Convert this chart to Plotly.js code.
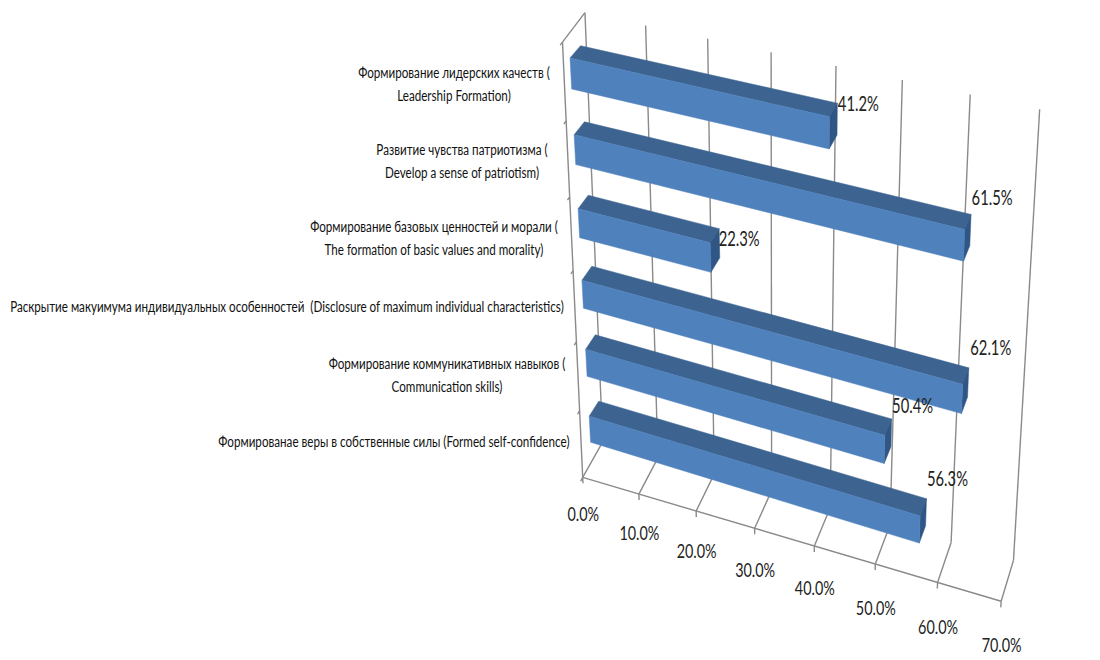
<!DOCTYPE html>
<html><head><meta charset="utf-8">
<script src="https://cdn.plot.ly/plotly-3.0.1.min.js"></script>
<style>html,body{margin:0;padding:0;background:#fff}#c{width:1100px;height:660px}</style></head>
<body><div id="c"></div>
<script>
// ---- data, top category first
const categoryLines = [
  ["Формирование лидерских качеств (", "Leadership Formation)"],
  ["Развитие чувства патриотизма (", "Develop a sense of patriotism)"],
  ["Формирование базовых ценностей и морали (", "The formation of basic values and morality)"],
  ["Раскрытие макуимума индивидуальных особенностей  (Disclosure of maximum individual characteristics)"],
  ["Формирование коммуникативных навыков (", "Communication skills)"],
  ["Формированае веры в собственные силы (Formed self-confidence)"]
];
const values = [41.2, 61.5, 22.3, 62.1, 50.4, 56.3];
const tickValues = [0, 10, 20, 30, 40, 50, 60, 70];
const AXIS_MAX = 70;

// ---- layout of text (pixel anchors)
const catAnchors = [[454,74],[462,151],[434,228],[287,308],[447,365],[394,443]];
const valueLabelOffsets = [[21,3],[21,-15],[20,12],[22,-18],[21,-11],[21,-18]];
const tickLabelDrop = [39,41,42,44,44,46,47,46];
const LINE_GAP = 23;

// ---- perspective cameras, calibrated on the reference: [value, depth, height, px, py]
const boxCalib = [
 [0,0,0,584,474],[10,0,0,640,492],[20,0,0,697,510],[30,0,0,755,528],[40,0,0,814,546],[50,0,0,875,565],[60,0,0,937,585],[70,0,0,1001,604],
 [0,1,1,587,12],[10,1,1,647,25],[20,1,1,708,38],[30,1,1,771,52],[40,1,1,835,66],[50,1,1,902,80],[60,1,1,970,95],[70,1,1,1040,110],
 [0,1,0,602,445],[10,1,0,655,462],[60,1,0,952,538],[70,1,0,1014,558],[0,0,1,560,43]
];
// bar camera: depth 0 = bar front, 1 = bar back; height in category slots, counted from the floor
const BAR0=0.3, BAR1=0.7, nCat=values.length;
const zLo=i=>(nCat-1-i+BAR0)/nCat, zHi=i=>(nCat-1-i+BAR1)/nCat;
const barCornersLeft=[[570,58,571,89,580,46],[574,135,576,165,585,122],[578,209,579,238,588,195],[582,280,583,308,592,266],[586,349,587,376,595,334],[589,417,591,443,599,401]];
const barCornersRight=[[829,117,829,149,837,102,837,136],[966,229,963,261,971,214,970,248],[711,242,712,272,720,228,720,258],[963,385,962,413,968,367,968,397],[885,436,883,463,891,418,891,447],[920,515,919,543,926,498,926,528]];
const barCalib=[];
values.forEach((v,i)=>{const L=barCornersLeft[i],R=barCornersRight[i];
  barCalib.push([0,0,zHi(i),L[0],L[1]],[0,0,zLo(i),L[2],L[3]],[0,1,zHi(i),L[4],L[5]]);
  barCalib.push([v,0,zHi(i),R[0],R[1]],[v,0,zLo(i),R[2],R[3]],[v,1,zHi(i),R[4],R[5]],[v,1,zLo(i),R[6],R[7]]);
});
function solve(A,b){const n=b.length;for(let i=0;i<n;i++){let p=i;for(let r=i+1;r<n;r++)if(Math.abs(A[r][i])>Math.abs(A[p][i]))p=r;
  [A[i],A[p]]=[A[p],A[i]];[b[i],b[p]]=[b[p],b[i]];
  for(let r=i+1;r<n;r++){const f=A[r][i]/A[i][i];for(let c=i;c<n;c++)A[r][c]-=f*A[i][c];b[r]-=f*b[i];}}
  const x=new Array(n);for(let i=n-1;i>=0;i--){let s=b[i];for(let c=i+1;c<n;c++)s-=A[i][c]*x[c];x[i]=s/A[i][i];}return x;}
function fitCamera(calib){const rows=[],rhs=[];
  calib.forEach(([v,d,z,px,py])=>{const X=[v/AXIS_MAX,d,z,1];const u=px/1000,w=py/1000;
    rows.push([...X,0,0,0,0,...X.slice(0,3).map(t=>-u*t)]);rhs.push(u);
    rows.push([0,0,0,0,...X,...X.slice(0,3).map(t=>-w*t)]);rhs.push(w);});
  const N=Array.from({length:11},()=>new Array(11).fill(0)),B=new Array(11).fill(0);
  rows.forEach((r,k)=>{for(let i=0;i<11;i++){B[i]+=r[i]*rhs[k];for(let j=0;j<11;j++)N[i][j]+=r[i]*r[j];}});
  const m=solve(N,B);
  return (v,d,z)=>{const x=v/AXIS_MAX,h=m[8]*x+m[9]*d+m[10]*z+1;
    return [1000*(m[0]*x+m[1]*d+m[2]*z+m[3])/h,1000*(m[4]*x+m[5]*d+m[6]*z+m[7])/h];};}
const project=fitCamera(boxCalib), projectBar=fitCamera(barCalib);

function poly(list){const xs=[],ys=[];list.forEach(q=>{q.concat([q[0]]).forEach(p=>{xs.push(p[0]);ys.push(p[1]);});xs.push(null);ys.push(null);});return {xs,ys};}
function segs(list){const xs=[],ys=[];list.forEach(s=>{s.forEach(p=>{xs.push(p[0]);ys.push(p[1]);});xs.push(null);ys.push(null);});return {xs,ys};}

const front=[],top_=[],end=[];
values.forEach((val,i)=>{const z0=zLo(i),z1=zHi(i),P=projectBar;
  front.push([P(0,0,z0),P(val,0,z0),P(val,0,z1),P(0,0,z1)]);
  top_.push([P(0,0,z1),P(val,0,z1),P(val,1,z1),P(0,1,z1)]);
  end.push([P(val,0,z0),P(val,1,z0),P(val,1,z1),P(val,0,z1)]);
});
const gridSegs=[],frameSegs=[];
tickValues.forEach(t=>{
  gridSegs.push([project(t,1,0),project(t,1,1)]);
  gridSegs.push([project(t,0,0),project(t,1,0)]);
  frameSegs.push([project(t,0,0),project(t,0,-0.015)]);
});
frameSegs.push([project(0,0,0),project(AXIS_MAX,0,0)]);
frameSegs.push([project(0,0,0),project(0,0,1)]);
frameSegs.push([project(0,0,1),project(0,1,1)]);
for(let k=0;k<=nCat;k++)frameSegs.push([project(0,0,k/nCat),project(0,-0.1,k/nCat)]);

const FONT="Lato,'Noto Sans',sans-serif", INK="#222222";
const lineTrace=(s,w,c)=>({type:'scatter',mode:'lines',x:s.xs,y:s.ys,line:{color:c,width:w},hoverinfo:'skip',showlegend:false});
const fillTrace=(q,c)=>{const s=poly(q);return {type:'scatter',mode:'lines',x:s.xs,y:s.ys,fill:'toself',fillcolor:c,line:{color:c,width:0.5},hoverinfo:'skip',showlegend:false};};
const textTrace=(x,y,t,size,color)=>({type:'scatter',mode:'text',x,y,text:t,textposition:'middle center',textfont:{family:FONT,size,color:color||INK},hoverinfo:'skip',showlegend:false});

const catX=[],catY=[],catT=[];
categoryLines.forEach((ls,i)=>ls.forEach((l,j)=>{catX.push(catAnchors[i][0]);catY.push(catAnchors[i][1]+j*LINE_GAP);catT.push(l);}));
const tickPos=tickValues.map(t=>project(t,0,0));
const valPos=values.map((v,i)=>{const p=projectBar(v,1,zHi(i));return [p[0]+valueLabelOffsets[i][0],p[1]+valueLabelOffsets[i][1]];});

const traces=[
  lineTrace(segs(gridSegs),1.4,'#8a8a8a'),
  lineTrace(segs(frameSegs),1.4,'#8a8a8a'),
  fillTrace(top_,'#3D6491'),
  fillTrace(end,'#2F5684'),
  fillTrace(front,'#4F81BD'),
  textTrace(catX,catY,catT,16,'#111111'),
  textTrace(tickPos.map(p=>p[0]+0.5),tickPos.map((p,i)=>p[1]+tickLabelDrop[i]),tickValues.map(t=>t.toFixed(1)+'%'),20),
  textTrace(valPos.map(p=>p[0]),valPos.map(p=>p[1]),values.map(v=>v.toFixed(1)+'%'),21)
];
const hidden={range:[0,1100],visible:false,fixedrange:true};
// The reference's text is horizontally squeezed: condense each text group to the measured width of a sample string
const condense=[[5,"Раскрытие",554],[6,"10.0%",40],[7,"41.2%",41]];
Plotly.newPlot('c',traces,{width:1100,height:660,margin:{l:0,r:0,t:0,b:0},paper_bgcolor:'#fff',plot_bgcolor:'#fff',showlegend:false,
  xaxis:hidden,yaxis:{range:[660,0],visible:false,fixedrange:true}},{displayModeBar:false,staticPlot:true}).then(()=>{
  const layers=document.querySelectorAll('#c .scatterlayer .trace');
  condense.forEach(([idx,sample,width])=>{
    const texts=[...layers[idx].querySelectorAll('.textpoint text')];
    const ref=texts.find(t=>t.textContent.indexOf(sample)===0);
    const sx=width/ref.getComputedTextLength();
    texts.forEach(t=>{const x=+t.getAttribute('x');t.setAttribute('transform',`translate(${x} 0) scale(${sx} 1) translate(${-x} 0)`);});
  });
});
</script></body></html>
